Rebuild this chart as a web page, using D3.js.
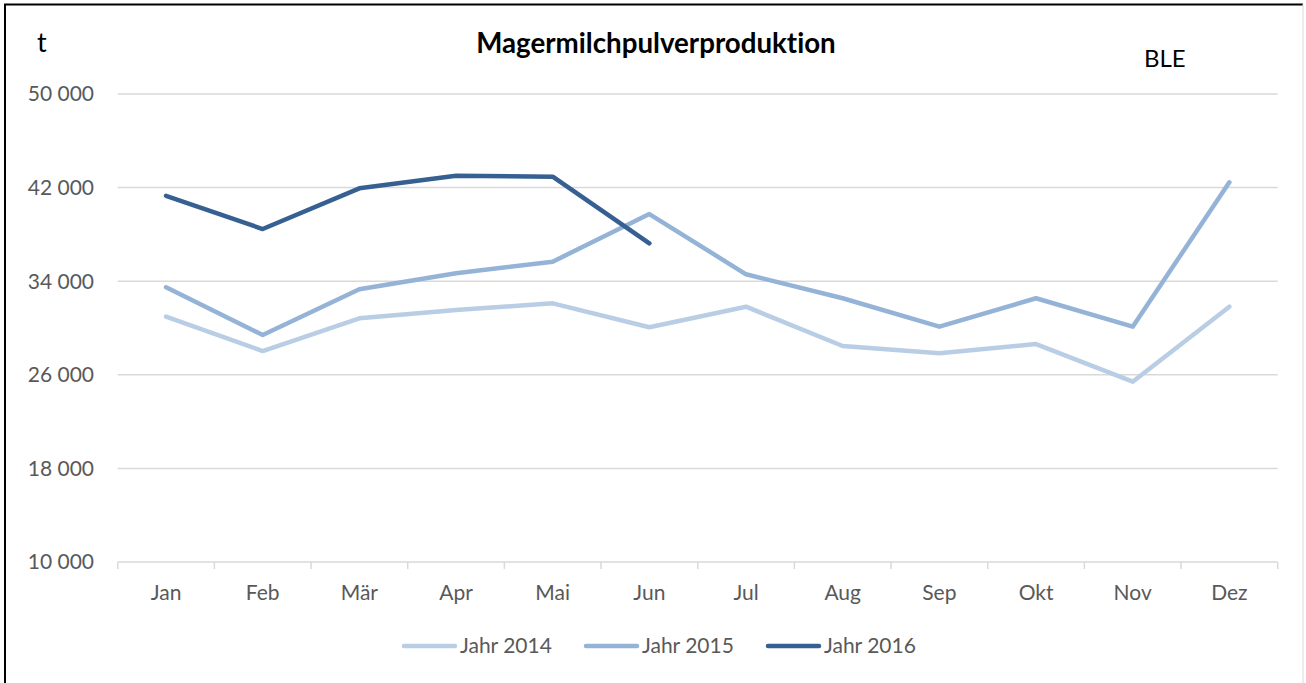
<!DOCTYPE html>
<html>
<head>
<meta charset="utf-8">
<script src="https://cdn.jsdelivr.net/npm/d3@7"></script>
<style>
  html, body { margin: 0; padding: 0; background: #fff; }
  svg { display: block; font-family: Lato, "Open Sans", sans-serif; font-variant-ligatures: none; font-feature-settings: "liga" 0, "clig" 0; }
</style>
</head>
<body>
<svg id="chart" width="1306" height="683"></svg>
<script>
const months = ["Jan","Feb","Mär","Apr","Mai","Jun","Jul","Aug","Sep","Okt","Nov","Dez"];
const yTicks = [10000, 18000, 26000, 34000, 42000, 50000];
const seriesNames = ["Jahr 2014", "Jahr 2015", "Jahr 2016"];
const values2014 = [30970, 28030, 30830, 31540, 32110, 30060, 31820, 28460, 27840, 28630, 25410, 31820];
const values2015 = [33480, 29400, 33310, 34680, 35670, 39740, 34590, 32540, 30110, 32540, 30110, 42450];
const values2016 = [41300, 38460, 41940, 43020, 42930, 37240];
const seriesColors = ["#B9CDE5", "#95B3D7", "#376092"];

const svg = d3.select("#chart");
const W = 1306, H = 683;
const plot = { left: 117.7, right: 1277.7, top: 94, bottom: 562 };

const x = d3.scaleBand().domain(months).range([plot.left, plot.right]);
const y = d3.scaleLinear().domain([10000, 50000]).range([plot.bottom, plot.top]);
const fmt = v => d3.format(",")(v).replace(/,/g, " ");

// frame
svg.append("line").attr("x1", 5).attr("x2", 5).attr("y1", 4).attr("y2", H).attr("stroke", "#000").attr("stroke-width", 2);
svg.append("line").attr("x1", 4).attr("x2", 1303).attr("y1", 4.5).attr("y2", 4.5).attr("stroke", "#000").attr("stroke-width", 2);
svg.append("line").attr("x1", 1303).attr("x2", 1303).attr("y1", 4).attr("y2", H).attr("stroke", "#d9d9d9").attr("stroke-width", 1);

// gridlines
svg.append("g").selectAll("line").data(yTicks).join("line")
  .attr("x1", plot.left).attr("x2", plot.right)
  .attr("y1", d => y(d)).attr("y2", d => y(d))
  .attr("stroke", "#d9d9d9").attr("stroke-width", 1.5);

// y labels
svg.append("g").selectAll("text").data(yTicks).join("text")
  .attr("x", 94).attr("y", d => y(d)).attr("dy", "0.35em")
  .attr("text-anchor", "end").attr("fill", "#595959")
  .attr("font-size", 21).text(d => fmt(d));

// x axis
const xAxis = d3.axisBottom(x).tickSize(0).tickPadding(0);
const gx = svg.append("g").attr("transform", `translate(0,${plot.bottom})`).call(xAxis);
gx.select(".domain").remove();
gx.selectAll("text").attr("font-family", "Lato, 'Open Sans', sans-serif").attr("font-size", 21)
  .attr("fill", "#595959").attr("y", 31).attr("dy", "0.35em");
// category boundary ticks
const bounds = months.map(m => x(m)).concat([plot.right]);
svg.append("g").selectAll("line").data(bounds).join("line")
  .attr("x1", d => d).attr("x2", d => d)
  .attr("y1", plot.bottom).attr("y2", plot.bottom + 7)
  .attr("stroke", "#d9d9d9").attr("stroke-width", 1.5);

// lines
const data = [values2014, values2015, values2016];
const line = d3.line()
  .x((d, i) => x(months[i]) + x.bandwidth() / 2)
  .y(d => y(d));
svg.append("g").selectAll("path").data(data).join("path")
  .attr("d", d => line(d))
  .attr("fill", "none")
  .attr("stroke", (d, i) => seriesColors[i])
  .attr("stroke-width", 4.5)
  .attr("stroke-linejoin", "round")
  .attr("stroke-linecap", "round");

// title & labels
svg.append("text").attr("x", 656).attr("y", 53).attr("text-anchor", "middle")
  .attr("font-size", 27.7).attr("font-weight", "bold").attr("fill", "#000")
  .text("Magermilchpulverproduktion");
svg.append("text").attr("x", 37).attr("y", 52).attr("font-size", 27).attr("fill", "#000").text("t");
svg.append("text").attr("x", 1144).attr("y", 67).attr("font-size", 24).attr("fill", "#000").text("BLE");

// legend
const legendX = [402, 584, 766];
const lg = svg.append("g").selectAll("g").data(seriesNames).join("g")
  .attr("transform", (d, i) => `translate(${legendX[i]},646)`);
lg.append("line").attr("x1", 2).attr("x2", 53).attr("y1", 0).attr("y2", 0)
  .attr("stroke", (d, i) => seriesColors[i]).attr("stroke-width", 4.5).attr("stroke-linecap", "round");
lg.append("text").attr("x", 58).attr("y", 0).attr("dy", "0.35em")
  .attr("font-size", 21).attr("fill", "#595959").text(d => d);
</script>
</body>
</html>
